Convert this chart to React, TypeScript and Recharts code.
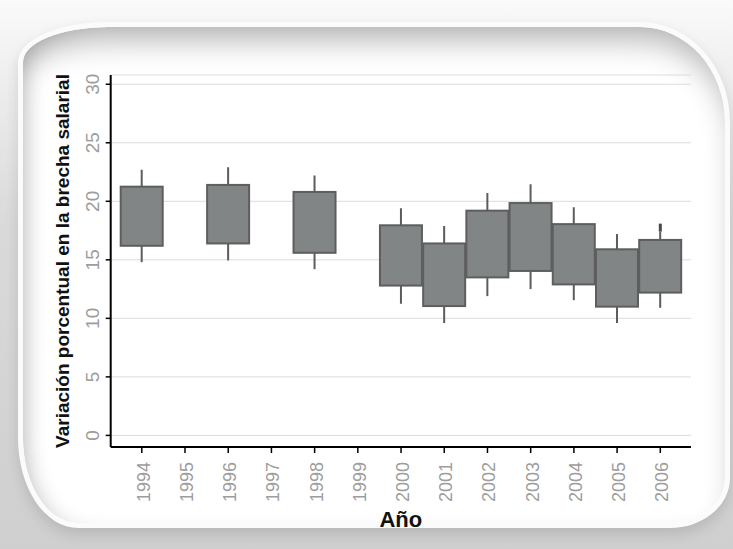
import { ComposedChart, Bar, Scatter, XAxis, YAxis, CartesianGrid } from 'recharts';

const years = ['1994', '1995', '1996', '1997', '1998', '1999', '2000', '2001', '2002', '2003', '2004', '2005', '2006'];
const whiskerLow = [14.8, null, 14.95, null, 14.2, null, 11.25, 9.6, 11.9, 12.5, 11.55, 9.6, 10.9];
const boxLow = [16.2, null, 16.4, null, 15.6, null, 12.8, 11.05, 13.5, 14.05, 12.9, 11.0, 12.2];
const boxHigh = [21.25, null, 21.4, null, 20.8, null, 17.95, 16.4, 19.2, 19.85, 18.05, 15.9, 16.7];
const whiskerHigh = [22.7, null, 22.9, null, 22.2, null, 19.4, 17.9, 20.7, 21.45, 19.5, 17.2, 17.4];
const outliers = [null, null, null, null, null, null, null, null, null, null, null, null, 17.75];
const yTicks = [0, 5, 10, 15, 20, 25, 30];

const data = years.map((year, i) => {
  const wl = whiskerLow[i];
  const bl = boxLow[i];
  const bh = boxHigh[i];
  const wh = whiskerHigh[i];
  if (wl == null || bl == null || bh == null || wh == null) {
    return { year, base: null, lower: null, box: null, upper: null, outlier: outliers[i] };
  }
  return { year, base: wl, lower: bl - wl, box: bh - bl, upper: wh - bh, outlier: outliers[i] };
});

const FONT = '"Liberation Sans", Arial, Helvetica, sans-serif';

const Whisker = (props: any) => {
  const { x, y, width, height } = props;
  if (x == null || !height) return null;
  const cx = x + width / 2;
  return <line x1={cx} x2={cx} y1={y} y2={y + height} stroke="#5c5c5c" strokeWidth={2} />;
};

const BoxShape = (props: any) => {
  const { x, y, width, height } = props;
  if (x == null || !height) return null;
  return <rect x={x + 0.5} y={y} width={width - 1} height={height} fill="#818585" stroke="#5e5e5e" strokeWidth={2} />;
};

const OutlierShape = (props: any) => {
  const { cx, cy } = props;
  if (cx == null || cy == null || isNaN(cy)) return null;
  return <rect x={cx - 1.5} y={cy - 4} width={3} height={8} fill="#4a4a4a" />;
};

const XTick = (props: any) => {
  const { x, y, payload } = props;
  const bx = x + 8;
  const by = y + 9;
  return (
    <text x={bx} y={by} transform={`rotate(-90, ${bx}, ${by})`} textAnchor="end" fontSize={18} fill="#9d9d9d" fontFamily={FONT}>
      {payload.value}
    </text>
  );
};

const YTick = (props: any) => {
  const { x, y, payload } = props;
  return (
    <text x={x} y={y} transform={`rotate(-90, ${x}, ${y})`} textAnchor="middle" fontSize={19} fill="#9d9d9d" fontFamily={FONT}>
      {payload.value}
    </text>
  );
};

const YLabel = (props: any) => {
  const vb = props.viewBox || { x: 0, y: 0, width: 0, height: 0 };
  const cx = 69;
  const cy = vb.y + vb.height / 2;
  return (
    <text x={cx} y={cy} transform={`rotate(-90, ${cx}, ${cy})`} textAnchor="middle" fontSize={19} fontWeight="bold" fill="#111" fontFamily={FONT}>
      Variación porcentual en la brecha salarial
    </text>
  );
};

const XLabel = (props: any) => {
  const vb = props.viewBox || { x: 0, y: 0, width: 0, height: 0 };
  return (
    <text x={vb.x + vb.width / 2} y={527} textAnchor="middle" fontSize={22} fontWeight="bold" fill="#111" fontFamily={FONT}>
      Año
    </text>
  );
};

export default function App() {
  return (
    <div style={{ position: 'absolute', left: 0, top: 0, width: 733, height: 549, overflow: 'hidden', background: 'linear-gradient(180deg, #fafafa 0%, #dadada 40%, #cfcfcf 100%)' }}>
      <div
        style={{
          position: 'absolute',
          left: 18,
          top: 22,
          width: 702,
          height: 496,
          background: '#ffffff',
          border: '5px solid #fbfbfb',
          borderRadius: '90px 90px 60px 60px / 40px 100px 50px 90px',
          boxShadow: 'inset 0 24px 30px -10px rgba(0,0,0,0.28), inset 14px 0 22px -12px rgba(0,0,0,0.18), 0 6px 14px rgba(0,0,0,0.12)',
        }}
      />
      <div style={{ position: 'absolute', left: 0, top: 0 }}>
        <ComposedChart width={733} height={549} data={data} margin={{ top: 75, right: 42, left: 0, bottom: 0 }} barCategoryGap={0}>
          <CartesianGrid vertical={false} stroke="#dcdcdc" strokeWidth={1} />
          <XAxis
            dataKey="year"
            interval={0}
            padding={{ left: 9.5, right: 9.1 }}
            height={102}
            tickSize={6}
            tickMargin={0}
            tick={<XTick />}
            axisLine={{ stroke: '#000', strokeWidth: 2 }}
            tickLine={{ stroke: '#000', strokeWidth: 1.5 }}
            label={<XLabel />}
          />
          <YAxis
            type="number"
            domain={[-0.99, 30.79]}
            ticks={yTicks}
            allowDataOverflow
            width={110.7}
            tickSize={5}
            tickMargin={7}
            tick={<YTick />}
            axisLine={{ stroke: '#000', strokeWidth: 2 }}
            tickLine={{ stroke: '#000', strokeWidth: 1.5 }}
            label={<YLabel />}
          />
          <Bar dataKey="base" stackId="box" fill="transparent" isAnimationActive={false} shape={() => null} />
          <Bar dataKey="lower" stackId="box" isAnimationActive={false} shape={<Whisker />} />
          <Bar dataKey="box" stackId="box" isAnimationActive={false} shape={<BoxShape />} />
          <Bar dataKey="upper" stackId="box" isAnimationActive={false} shape={<Whisker />} />
          <Scatter dataKey="outlier" isAnimationActive={false} shape={<OutlierShape />} />
        </ComposedChart>
      </div>
    </div>
  );
}
